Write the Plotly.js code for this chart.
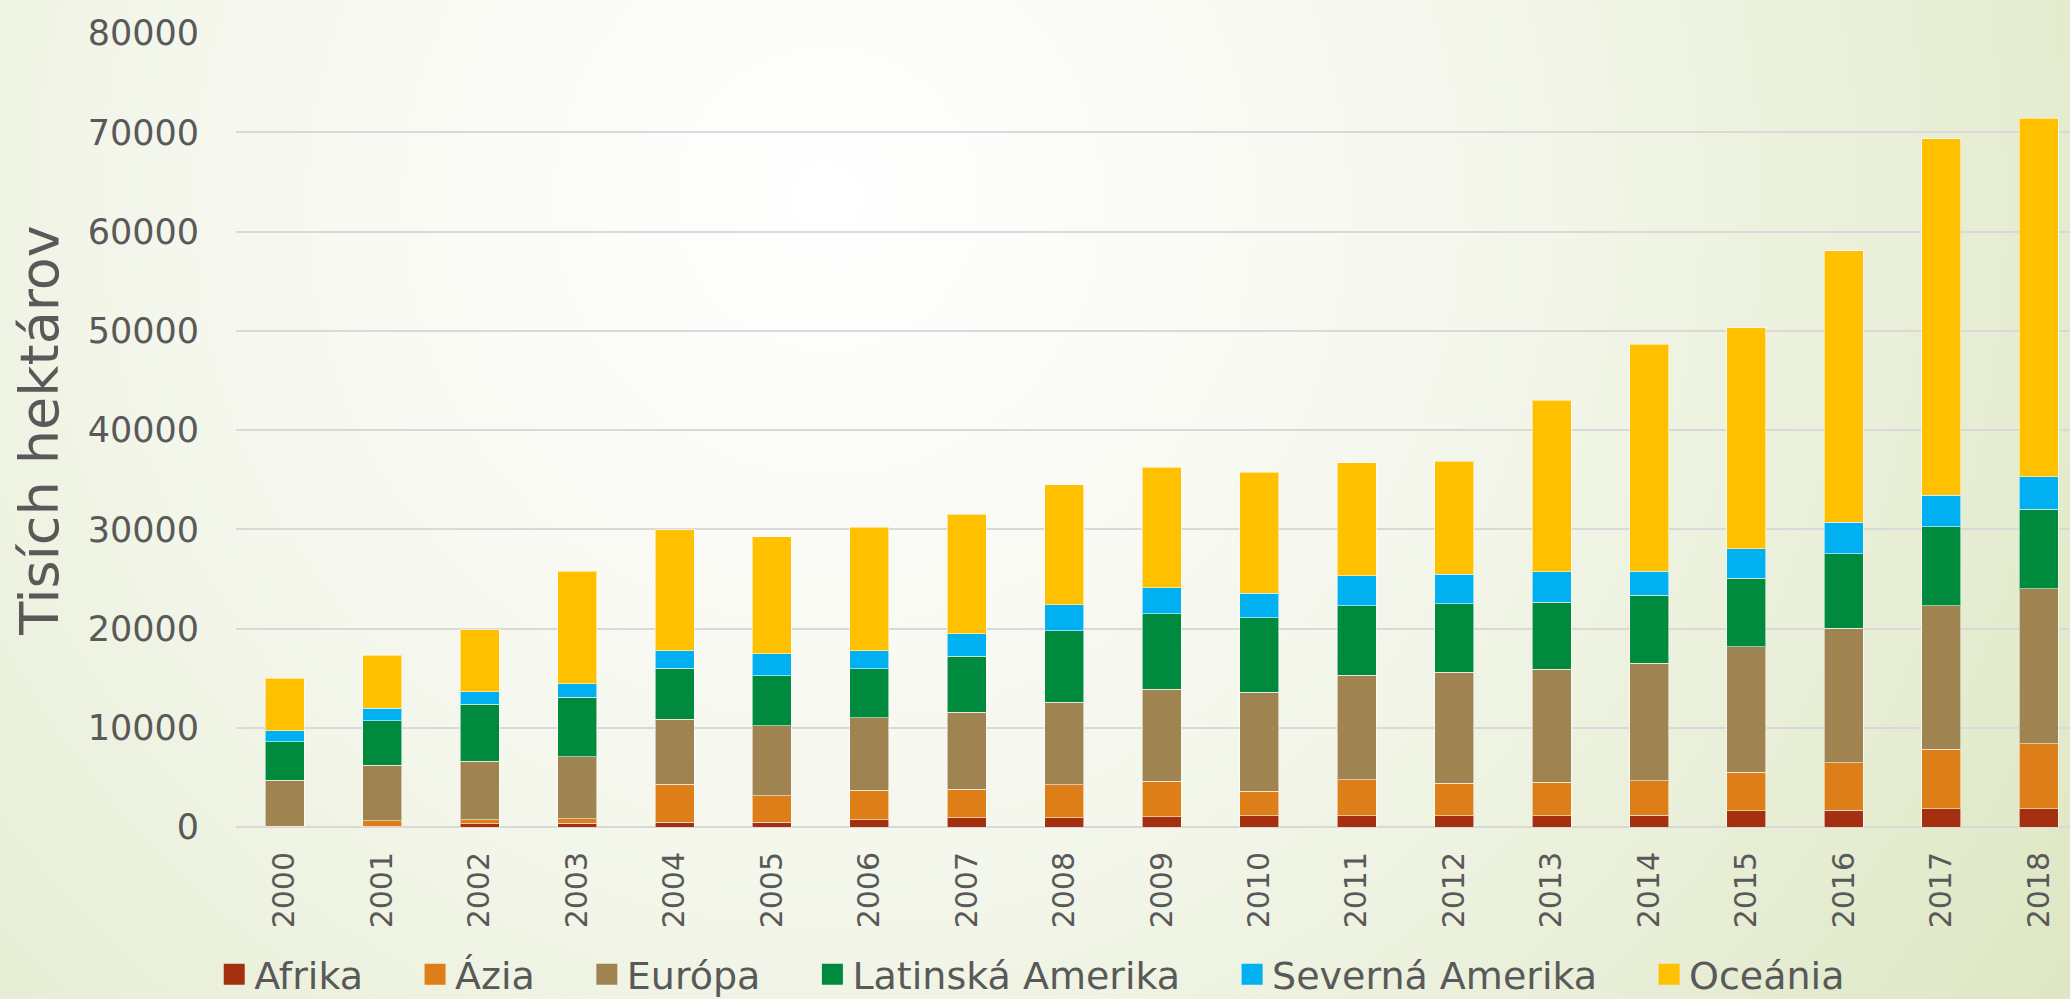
<!DOCTYPE html>
<html>
<head>
<meta charset="utf-8">
<script src="https://cdn.plot.ly/plotly-3.0.1.min.js"></script>
<style>
  html, body { margin: 0; padding: 0; }
  body {
    width: 2070px; height: 999px; overflow: hidden;
    background: radial-gradient(circle farthest-corner at 40% 20%, #ffffff 0%, #f6f8ef 40%, #e6edd3 80%, #dde7c2 100%);
  }
  #chart { width: 2070px; height: 999px; }
</style>
</head>
<body>
<div id="chart"></div>
<script>
const years = ['2000','2001','2002','2003','2004','2005','2006','2007','2008','2009','2010','2011','2012','2013','2014','2015','2016','2017','2018'];
const seriesNames = ['Afrika', 'Ázia', 'Európa', 'Latinská Amerika', 'Severná Amerika', 'Oceánia'];
const afrika   = [20, 100, 340, 400, 500, 500, 710, 910, 950, 1050, 1110, 1110, 1110, 1140, 1190, 1660, 1710, 1850, 1850];
const azia     = [50, 550, 400, 440, 3800, 2660, 2990, 2890, 3330, 3560, 2490, 3670, 3300, 3390, 3480, 3860, 4760, 6000, 6520];
const europa   = [4630, 5550, 5880, 6250, 6550, 7020, 7330, 7760, 8300, 9280, 9980, 10520, 11160, 11380, 11810, 12620, 13580, 14440, 15630];
const latAm    = [3890, 4500, 5750, 5980, 5170, 5040, 4900, 5620, 7190, 7590, 7490, 6990, 6920, 6720, 6870, 6910, 7470, 7960, 8000];
const sevAm    = [1110, 1280, 1240, 1380, 1750, 2220, 1820, 2280, 2620, 2620, 2490, 3030, 3000, 3100, 2420, 3000, 3200, 3190, 3290];
const oceania  = [5280, 5340, 6250, 11320, 12200, 11800, 12440, 12040, 12100, 12170, 12170, 11360, 11360, 17280, 22870, 22240, 27340, 35920, 36110];
const yTickVals = [0, 10000, 20000, 30000, 40000, 50000, 60000, 70000, 80000];
const yTickText = ['0', '10000', '20000', '30000', '40000', '50000', '60000', '70000', '80000'];

const values = [afrika, azia, europa, latAm, sevAm, oceania];
const colors = ['#A5300F', '#DE7E18', '#9F8351', '#008A3E', '#00B0F0', '#FFC000'];
const FONT = 'DejaVu Sans, sans-serif';
const GRAY = '#595959';

const traces = [];
values.forEach((v, i) => {
  traces.push({
    type: 'bar',
    name: seriesNames[i],
    x: years,
    y: v,
    legendgroup: seriesNames[i],
    showlegend: false,
    marker: { color: colors[i], line: { color: 'rgba(255,255,255,0.55)', width: 1 } },
    hoverinfo: 'x+y+name'
  });
});
// legend entries (square keys) linked to bar series
values.forEach((v, i) => {
  traces.push({
    type: 'scatter',
    mode: 'markers',
    name: seriesNames[i],
    x: [null],
    y: [null],
    legendgroup: seriesNames[i],
    showlegend: true,
    marker: { symbol: 'square', size: 16, color: colors[i], line: { color: colors[i], width: 5 } },
    hoverinfo: 'skip'
  });
});

const layout = {
  width: 2070,
  height: 999,
  margin: { l: 236, r: 0, t: 33, b: 172, autoexpand: false },
  paper_bgcolor: 'rgba(0,0,0,0)',
  plot_bgcolor: 'rgba(0,0,0,0)',
  barmode: 'stack',
  bargap: 0.6,
  font: { family: FONT, color: GRAY },
  xaxis: {
    type: 'category',
    range: [-0.5, 18.32],
    tickangle: -90,
    tickfont: { family: FONT, size: 30, color: GRAY },
    ticks: '',
    ticklabelstandoff: 18,
    showgrid: false,
    zeroline: false,
    showline: false,
    automargin: false,
    fixedrange: true
  },
  yaxis: {
    range: [0, 80000],
    tickvals: yTickVals,
    ticktext: yTickText,
    tickfont: { family: FONT, size: 35, color: GRAY },
    ticks: '',
    ticklabelstandoff: 36,
    showgrid: true,
    gridcolor: '#d9d9d9',
    gridwidth: 2,
    zeroline: true,
    zerolinecolor: '#d9d9d9',
    zerolinewidth: 2,
    showline: false,
    automargin: false,
    fixedrange: true,
    title: { text: 'Tisích hektárov', font: { family: FONT, size: 54, color: GRAY }, standoff: 11 }
  },
  showlegend: true,
  legend: {
    orientation: 'h',
    x: -0.0375,
    xanchor: 'left',
    y: -0.2255,
    yanchor: 'bottom',
    bgcolor: 'rgba(0,0,0,0)',
    font: { family: FONT, size: 38, color: GRAY },
    indentation: 47,
    itemclick: false,
    itemdoubleclick: false
  }
};

Plotly.newPlot('chart', traces, layout, { displayModeBar: false, staticPlot: true });
</script>
</body>
</html>
